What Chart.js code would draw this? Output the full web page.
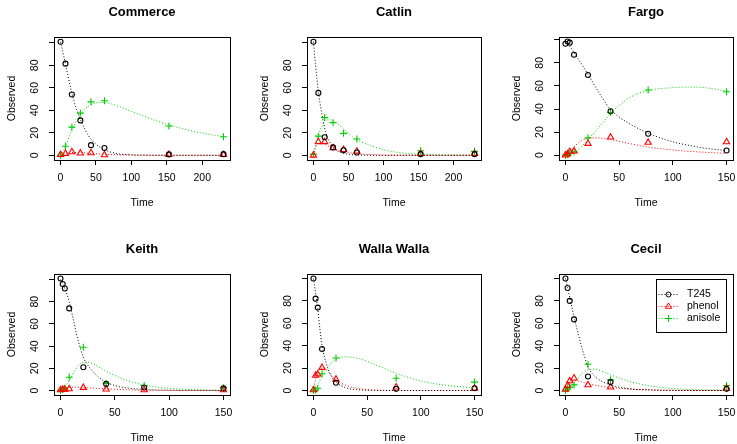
<!DOCTYPE html>
<html>
<head>
<meta charset="utf-8">
<script src="https://cdn.jsdelivr.net/npm/chart.js@4.4.1/dist/chart.umd.min.js"></script>
<style>
  html, body { margin: 0; padding: 0; width: 737px; height: 444px; overflow: hidden; background: #fff; }
  canvas { position: absolute; }
</style>
</head>
<body>
<script>
/* ============================================
   mkin fits — six soils, observed vs fitted
   ============================================ */

// Series + ticks
const seriesNames = ['T245', 'phenol', 'anisole'];
const yTicks = [0, 20, 40, 60, 80, 100];
const yTickLabels = ['0', '20', '40', '60', '80', ''];
const xTicksLong = [0, 50, 100, 150, 200];
const xTicksShort = [0, 50, 100, 150];

// Commerce
const commerceTime = [0, 7, 16, 28, 43, 62, 153, 230];
const commerceT245 = [101, 81.5, 54, 31, 9, 6.5, 0.8, 1];
const commercePhenol = [0.5, 1.5, 3, 1.8, 2.1, 0.3, 0.5, 0.5];
const commerceAnisole = [0, 8, 25, 37.5, 47.5, 48.5, 26, 16.5];
const commerceFitTime = [0, 5, 10, 15, 20, 25, 30, 40, 50, 60, 80, 100, 125, 150, 190, 230];
const commerceFitT245 = [101, 87, 72, 58, 46, 37, 29, 17, 10, 5.5, 1.5, 0.4, 0.1, 0, 0, 0];
const commerceFitPhenol = [0, 1.5, 2.2, 2.4, 2.5, 2.4, 2.3, 1.8, 1.4, 1, 0.5, 0.2, 0.1, 0, 0, 0];
const commerceFitAnisole = [0, 5, 13, 21, 28, 33, 38, 44, 46.5, 47, 44, 39, 33, 27.5, 21, 16.5];

// Catlin
const catlinTime = [0, 7, 16, 28, 43, 62, 153, 230];
const catlinT245 = [101, 55.5, 16, 7, 4.5, 2.5, 1, 1];
const catlinPhenol = [0, 12, 12, 6.5, 5, 3.5, 1.5, 1.5];
const catlinAnisole = [1, 17, 33.5, 29, 19.5, 14.5, 4, 3.5];
const catlinFitTime = [0, 3, 7, 10, 15, 20, 25, 30, 40, 50, 60, 80, 100, 125, 150, 190, 230];
const catlinFitT245 = [101, 80, 57, 44, 27, 16, 10, 6, 2.3, 1, 0.4, 0.1, 0, 0, 0, 0, 0];
const catlinFitPhenol = [0, 7, 11, 11.5, 10.5, 8.5, 7, 5.5, 3.5, 2.3, 1.5, 0.6, 0.2, 0.1, 0, 0, 0];
const catlinFitAnisole = [0, 8, 17, 23, 29, 31.5, 31.5, 30, 25, 19.5, 14.5, 9, 5, 2.2, 1, 0.3, 0.1];

// Fargo
const fargoTime = [0, 2, 4, 8, 21, 42, 77, 150];
const fargoT245 = [96.5, 98.5, 97.5, 87, 69.5, 38, 18.5, 4];
const fargoPhenol = [0, 1, 3, 3.5, 10, 15.5, 11, 11.5];
const fargoAnisole = [0, 0.5, 1.5, 3, 15, 37, 56.5, 55];
const fargoFitTime = [0, 5, 10, 15, 21, 30, 42, 50, 60, 77, 100, 115, 130, 150];
const fargoFitT245 = [98.5, 93, 86, 79, 70, 56, 39.5, 33, 27, 19, 11.5, 8.5, 6, 4];
const fargoFitPhenol = [0, 4, 9, 12.5, 14.5, 15, 13.5, 12, 10, 7, 4.5, 3.3, 2.5, 1.5];
const fargoFitAnisole = [0, 1, 3.5, 7.5, 13.5, 23, 36, 43, 50, 56, 58.5, 59, 58.5, 55.5];

// Keith
const keithTime = [0, 2, 4, 8, 21, 42, 77, 150];
const keithT245 = [101, 96, 92, 74, 21, 6, 2.7, 2];
const keithPhenol = [0.5, 1, 1, 1.5, 2.7, 1.2, 0.6, 0.6];
const keithAnisole = [0, 1, 2, 12, 39, 6.5, 4.5, 2.5];
const keithFitTime = [0, 4, 8, 12, 16, 21, 25, 30, 40, 50, 60, 77, 100, 125, 150];
const keithFitT245 = [100, 92, 80, 63, 46, 30, 23, 17, 8.5, 4.5, 2.5, 1, 0.3, 0.1, 0];
const keithFitPhenol = [0, 2, 3, 3, 3, 2.7, 2.5, 2.2, 1.7, 1.2, 0.8, 0.3, 0.1, 0, 0];
const keithFitAnisole = [0, 3, 9, 16, 22, 25.5, 25.5, 24, 18.5, 13.5, 9.5, 5, 2, 0.8, 0.3];

// Walla Walla
const wallaTime = [0, 2, 4, 8, 21, 77, 150];
const wallaT245 = [100, 82, 74, 37, 7, 1.5, 2];
const wallaPhenol = [0.5, 13.5, 14.5, 20.5, 10, 3, 2];
const wallaAnisole = [0, 0.5, 2, 15, 29, 11, 7.5];
const wallaFitTime = [0, 2, 4, 6, 8, 12, 16, 21, 30, 40, 50, 60, 77, 100, 125, 150];
const wallaFitT245 = [100, 87, 73, 55, 40, 24, 14, 7.5, 2.5, 0.8, 0.3, 0.1, 0, 0, 0, 0];
const wallaFitPhenol = [0, 10, 16, 19, 20, 18.5, 14.5, 9, 4.8, 2, 0.8, 0.3, 0.1, 0, 0, 0];
const wallaFitAnisole = [0, 2, 5, 9, 13, 19, 24, 28, 30, 29, 26, 22, 15.5, 8.5, 4.5, 2.5];

// Cecil
const cecilTime = [0, 2, 4, 8, 21, 42, 150];
const cecilT245 = [100, 91.5, 80, 63.5, 12.5, 7.5, 1.5];
const cecilPhenol = [1, 4.5, 8.5, 11, 5, 3, 2];
const cecilAnisole = [0, 1.5, 3, 5, 23.5, 9.5, 4.5];
const cecilFitTime = [0, 2, 4, 8, 12, 16, 21, 25, 30, 42, 60, 80, 100, 125, 150];
const cecilFitT245 = [100, 92, 83, 66, 50, 36, 21, 15, 10.5, 5, 1.5, 0.4, 0.1, 0, 0];
const cecilFitPhenol = [0, 5, 7.5, 9, 8.5, 7.5, 6, 5.2, 4.3, 2.7, 1.3, 0.6, 0.2, 0.1, 0];
const cecilFitAnisole = [0, 1.5, 3, 7, 11.5, 15.5, 18.5, 19, 18.5, 14, 8, 4, 1.8, 0.7, 0.3];

// ---- styling / layout ----
const COLORS = ['#000000', '#ff0000', '#00cd00'];
const MARKERS = ['circle', 'triangle', 'cross'];
const RADII = [2.5, 3.6, 3.5];
const AXIS_W = 54;   // space left of plot box
const TITLE_H = 37;  // space above plot box
const XAXIS_H = 62;  // space below plot box
const PAD_R = 10;

Chart.defaults.font.family = "'Liberation Sans', Arial, Helvetica, sans-serif";
Chart.defaults.font.size = 10.5;
Chart.defaults.color = '#000';

const panels = [
  { title: 'Commerce', box: [54, 37, 230, 160], xr: [-9.2, 239.2], yr: [-4.2, 105.2], xt: xTicksLong,
    t: commerceTime, obs: [commerceT245, commercePhenol, commerceAnisole],
    ft: commerceFitTime, fit: [commerceFitT245, commerceFitPhenol, commerceFitAnisole] },
  { title: 'Catlin', box: [307, 37, 481, 160], xr: [-9.2, 239.2], yr: [-4.2, 105.2], xt: xTicksLong,
    t: catlinTime, obs: [catlinT245, catlinPhenol, catlinAnisole],
    ft: catlinFitTime, fit: [catlinFitT245, catlinFitPhenol, catlinFitAnisole] },
  { title: 'Fargo', box: [559, 37, 733, 160], xr: [-6, 156], yr: [-4.2, 102.4], xt: xTicksShort,
    t: fargoTime, obs: [fargoT245, fargoPhenol, fargoAnisole],
    ft: fargoFitTime, fit: [fargoFitT245, fargoFitPhenol, fargoFitAnisole] },
  { title: 'Keith', box: [54, 274, 230, 395], xr: [-6, 156], yr: [-4, 105], xt: xTicksShort,
    t: keithTime, obs: [keithT245, keithPhenol, keithAnisole],
    ft: keithFitTime, fit: [keithFitT245, keithFitPhenol, keithFitAnisole] },
  { title: 'Walla Walla', box: [307, 274, 481, 395], xr: [-6, 156], yr: [-4, 104], xt: xTicksShort,
    t: wallaTime, obs: [wallaT245, wallaPhenol, wallaAnisole],
    ft: wallaFitTime, fit: [wallaFitT245, wallaFitPhenol, wallaFitAnisole] },
  { title: 'Cecil', box: [559, 274, 733, 395], xr: [-6, 156], yr: [-4, 104], xt: xTicksShort,
    t: cecilTime, obs: [cecilT245, cecilPhenol, cecilAnisole],
    ft: cecilFitTime, fit: [cecilFitT245, cecilFitPhenol, cecilFitAnisole], legend: true }
];

// R-style box around the plot region
const boxPlugin = {
  id: 'plotBox',
  afterDatasetsDraw(chart) {
    const { ctx, chartArea: a } = chart;
    ctx.save();
    ctx.strokeStyle = '#000';
    ctx.lineWidth = 1;
    ctx.strokeRect(Math.round(a.left) + 0.5, Math.round(a.top) + 0.5,
      Math.round(a.right - a.left), Math.round(a.bottom - a.top));
    ctx.restore();
  }
};

function drawMarker(ctx, style, x, y, r) {
  ctx.beginPath();
  if (style === 'circle') {
    ctx.arc(x, y, r, 0, Math.PI * 2);
  } else if (style === 'triangle') {
    for (let k = 0; k < 3; k++) {
      const ang = k * 2 * Math.PI / 3;
      const px = x + Math.sin(ang) * r, py = y - Math.cos(ang) * r;
      k ? ctx.lineTo(px, py) : ctx.moveTo(px, py);
    }
    ctx.closePath();
  } else {
    ctx.moveTo(x - r, y); ctx.lineTo(x + r, y);
    ctx.moveTo(x, y - r); ctx.lineTo(x, y + r);
  }
  ctx.stroke();
}

// legend box, top right inside the plot region
const legendPlugin = {
  id: 'rLegend',
  afterDraw(chart) {
    const { ctx, chartArea: a } = chart;
    const w = 70, h = 53;
    const x0 = Math.round(a.right - 7 - w) + 0.5;
    const y0 = Math.round(a.top + 5) + 0.5;
    ctx.save();
    ctx.fillStyle = '#fff';
    ctx.fillRect(x0, y0, w, h);
    ctx.strokeStyle = '#000';
    ctx.lineWidth = 1;
    ctx.strokeRect(x0, y0, w, h);
    ctx.font = "10.5px 'Liberation Sans', Arial, sans-serif";
    ctx.textBaseline = 'middle';
    seriesNames.forEach((name, i) => {
      const y = Math.round(y0 + 14 + i * 12.3) + 0.5;
      ctx.strokeStyle = COLORS[i];
      ctx.setLineDash([1, 2]);
      ctx.beginPath();
      ctx.moveTo(x0 + 2, y); ctx.lineTo(x0 + 22, y);
      ctx.stroke();
      ctx.setLineDash([]);
      drawMarker(ctx, MARKERS[i], x0 + 12, y, RADII[i]);
      ctx.fillStyle = '#000';
      ctx.fillText(name, x0 + 30.5, y);
    });
    ctx.restore();
  }
};

function makePanel(p) {
  const [L, T, R, B] = p.box;
  const w = (R - L) + AXIS_W + PAD_R;
  const h = (B - T) + TITLE_H + XAXIS_H;
  const canvas = document.createElement('canvas');
  canvas.width = w;
  canvas.height = h;
  canvas.style.left = (L - AXIS_W) + 'px';
  canvas.style.top = (T - TITLE_H) + 'px';
  canvas.style.width = w + 'px';
  canvas.style.height = h + 'px';
  document.body.appendChild(canvas);

  const datasets = [];
  p.fit.forEach((vals, i) => {
    datasets.push({
      label: seriesNames[i] + ' fit',
      data: p.ft.map((t, k) => ({ x: t, y: vals[k] })),
      showLine: true,
      borderColor: COLORS[i],
      borderWidth: 1,
      borderDash: [1, 2],
      pointRadius: 0,
      fill: false,
      cubicInterpolationMode: 'monotone'
    });
  });
  p.obs.forEach((vals, i) => {
    datasets.push({
      label: seriesNames[i],
      data: p.t.map((t, k) => ({ x: t, y: vals[k] })),
      showLine: false,
      pointStyle: MARKERS[i],
      pointRadius: RADII[i],
      pointBorderWidth: 1.1,
      borderColor: COLORS[i],
      backgroundColor: 'rgba(0,0,0,0)'
    });
  });

  new Chart(canvas, {
    type: 'scatter',
    data: { datasets },
    options: {
      responsive: false,
      animation: false,
      events: [],
      layout: { padding: { left: 0, top: 0, right: PAD_R, bottom: 0 } },
      plugins: {
        legend: { display: false },
        tooltip: { enabled: false },
        title: {
          display: true,
          text: p.title,
          fullSize: false,
          color: '#000',
          font: { size: 13, weight: 'bold' },
          padding: { top: 4.3, bottom: 17.1 }
        }
      },
      scales: {
        x: {
          type: 'linear',
          min: p.xr[0],
          max: p.xr[1],
          afterBuildTicks: s => { s.ticks = p.xt.map(v => ({ value: v })); },
          afterFit: s => { s.height = XAXIS_H; },
          ticks: { autoSkip: false, minRotation: 0, maxRotation: 0, padding: 7, color: '#000',
                   callback: v => String(v) },
          grid: { drawOnChartArea: false, drawTicks: true, tickLength: 5, color: '#000' },
          border: { display: false },
          title: { display: true, text: 'Time', color: '#000', padding: { top: 0, bottom: 12.4 } }
        },
        y: {
          type: 'linear',
          min: p.yr[0],
          max: p.yr[1],
          afterBuildTicks: s => { s.ticks = yTicks.map(v => ({ value: v })); },
          afterFit: s => { s.width = AXIS_W; },
          ticks: { autoSkip: false, minRotation: 90, maxRotation: 90, crossAlign: 'center',
                   padding: 8, color: '#000', callback: (v, i) => yTickLabels[i] },
          grid: { drawOnChartArea: false, drawTicks: true, tickLength: 5, color: '#000' },
          border: { display: false },
          title: { display: true, text: 'Observed', color: '#000', padding: { top: 5.7, bottom: 0 } }
        }
      }
    },
    plugins: p.legend ? [boxPlugin, legendPlugin] : [boxPlugin]
  });
}

panels.forEach(makePanel);
</script>
</body>
</html>
